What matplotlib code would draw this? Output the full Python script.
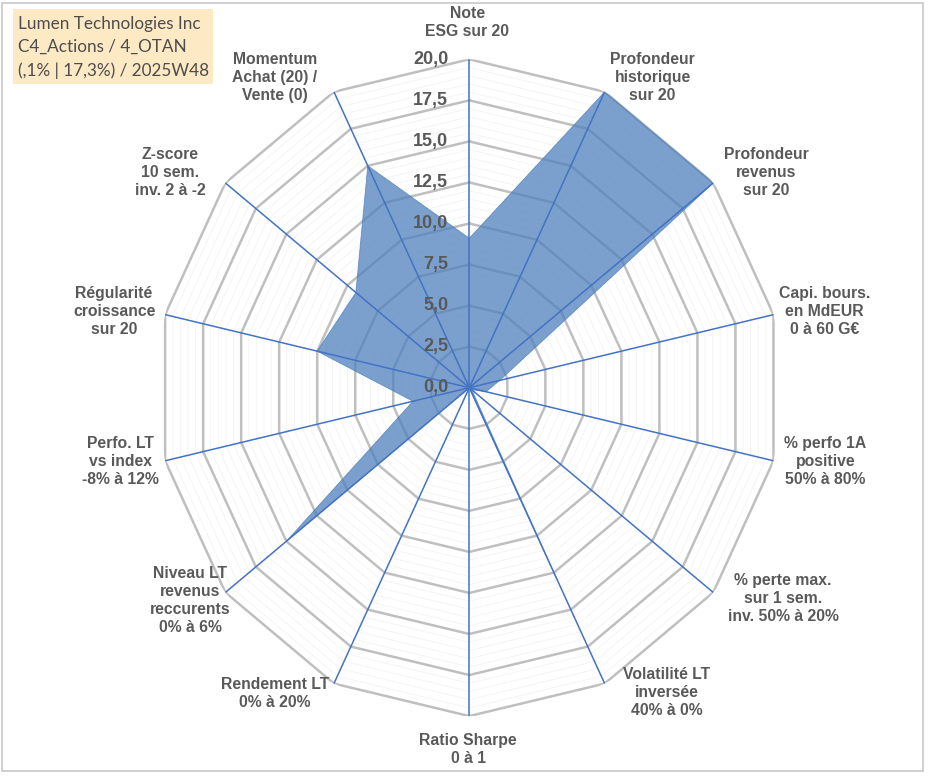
import numpy as np
import matplotlib.pyplot as plt
from matplotlib.patches import Rectangle

# axes du radar (sens horaire depuis le haut)
categories = [
    "Note\nESG sur 20",
    "Profondeur\nhistorique\nsur 20",
    "Profondeur\nrevenus\nsur 20",
    "Capi. bours.\nen MdEUR\n0 à 60 G€",
    "% perfo 1A\npositive\n50% à 80%",
    "% perte max.\nsur 1 sem.\ninv. 50% à 20%",
    "Volatilité LT\ninversée\n40% à 0%",
    "Ratio Sharpe\n0 à 1",
    "Rendement LT\n0% à 20%",
    "Niveau LT\nrevenus\nreccurents\n0% à 6%",
    "Perfo. LT\nvs index\n-8% à 12%",
    "Régularité\ncroissance\nsur 20",
    "Z-score\n10 sem.\ninv. 2 à -2",
    "Momentum\nAchat (20) /\nVente (0)",
]
values = [9.1, 20.0, 20.0, 2.0, 1.1, 0.2, 13.0, 0.0, 0.0, 15.0, 3.7, 10.0, 9.3, 15.0]
radial_ticks = [0, 2.5, 5, 7.5, 10, 12.5, 15, 17.5, 20]
minor_ticks = np.arange(0.5, 20, 0.5)
title = "Lumen Technologies Inc\nC4_Actions / 4_OTAN\n(,1% | 17,3%) / 2025W48"

# décalage des étiquettes (pixels) par rapport au sommet extérieur
label_offsets = [(-2, 37), (48, 14), (53, 10), (51, 3), (52, -1), (70, -6), (62, -9),
                 (-1, -33), (-59, -10), (-35, -8), (-45, -1), (-51, 3), (-55, 10), (-59, 14)]

n = len(categories)
angles = np.arange(n) * 2 * np.pi / n
closed = np.append(angles, angles[0])

W, H = 933, 776
fig = plt.figure(figsize=(W / 100, H / 100), dpi=100)
cx, cy, rx, ry = 469.3, 387.7, 312, 328.4
ax = fig.add_axes([(cx - rx) / W, (H - cy - ry) / H, 2 * rx / W, 2 * ry / H], projection='polar')
ax.set_aspect('auto')
ax.set_theta_zero_location('N')
ax.set_theta_direction(-1)
ax.set_ylim(0, 20)
ax.set_xticks([])
ax.set_yticks([])
ax.grid(False)
ax.spines['polar'].set_visible(False)
ax.patch.set_visible(False)

# grille polygonale
for r in minor_ticks:
    if r % 2.5:
        ax.plot(closed, [r] * (n + 1), color='#F3F3F3', lw=0.6, zorder=1)
for r in radial_ticks[1:]:
    ax.plot(closed, [r] * (n + 1), color='#BFBFBF', lw=1.8, zorder=1.5)

# série
v = np.append(values, values[0])
ax.fill(closed, v, color='#4F81BD', alpha=0.75, lw=0, zorder=2)
ax.plot(closed, v, color='#4F81BD', lw=0.6, alpha=0.8, zorder=2.5)

# rayons
for a in angles:
    ax.plot([a, a], [0, 20], color='#4472C4', lw=1.1, zorder=3)

for r in radial_ticks:
    ax.annotate(f"{r:.1f}".replace('.', ','), (0, r), xytext=(-21, 0), textcoords='offset pixels',
                ha='right', va='center', fontsize=13, fontweight='bold', color='#595959',
                family='Liberation Sans', zorder=4)

for a, lab, off in zip(angles, categories, label_offsets):
    ax.annotate(lab, (a, 20), xytext=off, textcoords='offset pixels', ha='center', va='center',
                fontsize=11.3, fontweight='bold', color='#595959', family='Liberation Sans',
                linespacing=1.25, annotation_clip=False)

fig.patches.append(Rectangle((13 / W, 1 - 84 / H), 200 / W, 75 / H, transform=fig.transFigure,
                             fc='#FDE9C4', ec='none'))
fig.text(18 / W, 1 - 16 / H, title, ha='left', va='top', fontsize=12.3, family='Lato',
         color='#4D4D4D', linespacing=1.55)

fig.patches.append(Rectangle((2 / W, 5 / H), 921 / W, 768 / H, transform=fig.transFigure,
                             fill=False, ec='#C8C8C8', lw=1.2))

fig.savefig('out.png', dpi=100)
